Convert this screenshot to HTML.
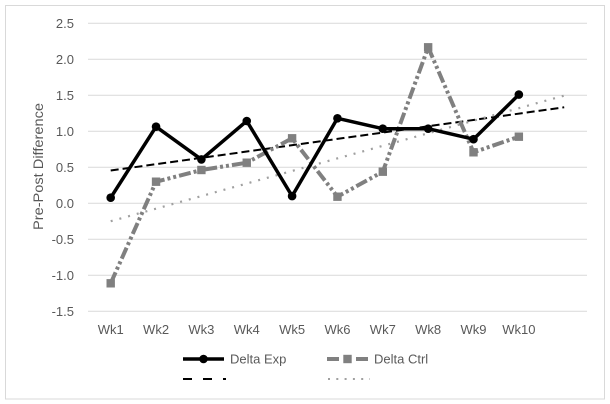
<!DOCTYPE html>
<html><head><meta charset="utf-8"><style>
html,body{margin:0;padding:0;background:#fff;}
svg{display:block;}
text{font-family:"Liberation Sans",Arial,sans-serif;fill:#595959;}
</style></head><body>
<svg width="610" height="404" viewBox="0 0 610 404" xmlns="http://www.w3.org/2000/svg">
<rect x="0" y="0" width="610" height="404" fill="#fff"/>
<rect x="5.5" y="5.5" width="599" height="393.5" fill="none" stroke="#d9d9d9" stroke-width="1"/>
<!-- gridlines -->
<g stroke="#d9d9d9" stroke-width="1">
<line x1="88" y1="23.3" x2="587" y2="23.3"/>
<line x1="88" y1="59.3" x2="587" y2="59.3"/>
<line x1="88" y1="95.3" x2="587" y2="95.3"/>
<line x1="88" y1="131.3" x2="587" y2="131.3"/>
<line x1="88" y1="167.3" x2="587" y2="167.3"/>
<line x1="88" y1="203.3" x2="587" y2="203.3"/>
<line x1="88" y1="239.3" x2="587" y2="239.3"/>
<line x1="88" y1="275.3" x2="587" y2="275.3"/>
<line x1="88" y1="311.3" x2="587" y2="311.3"/>
</g>
<!-- y tick labels -->
<g font-size="13" text-anchor="end">
<text x="74" y="28">2.5</text>
<text x="74" y="64">2.0</text>
<text x="74" y="100">1.5</text>
<text x="74" y="136">1.0</text>
<text x="74" y="172">0.5</text>
<text x="74" y="208">0.0</text>
<text x="74" y="244">-0.5</text>
<text x="74" y="280">-1.0</text>
<text x="74" y="316">-1.5</text>
</g>
<!-- y title -->
<text transform="translate(43,166.5) rotate(-90)" font-size="13.5" text-anchor="middle" textLength="127" lengthAdjust="spacingAndGlyphs">Pre-Post Difference</text>
<!-- x labels -->
<g font-size="13" text-anchor="middle">
<text x="110.7" y="334">Wk1</text>
<text x="156.05" y="334">Wk2</text>
<text x="201.4" y="334">Wk3</text>
<text x="246.75" y="334">Wk4</text>
<text x="292.1" y="334">Wk5</text>
<text x="337.45" y="334">Wk6</text>
<text x="382.8" y="334">Wk7</text>
<text x="428.15" y="334">Wk8</text>
<text x="473.5" y="334">Wk9</text>
<text x="518.85" y="334">Wk10</text>
</g>
<!-- trend lines -->
<line x1="110.7" y1="170.5" x2="564.2" y2="107.3" stroke="#000" stroke-width="2" stroke-dasharray="8 4"/>
<line x1="110.7" y1="221.2" x2="564.2" y2="95.6" stroke="#a0a0a0" stroke-width="2.2" stroke-dasharray="2 7"/>
<!-- Delta Ctrl -->
<polyline fill="none" stroke="#808080" stroke-width="4" stroke-dasharray="12 3 3 3 3 3" stroke-linejoin="round"
points="110.7,283.3 156.05,181.7 201.4,170.0 246.75,162.7 292.1,138.3 337.45,196.7 382.8,171.7 428.15,47.3 473.5,152.3 518.85,136.7"/>
<g fill="#808080">
<rect x="106.5" y="279.1" width="8.4" height="8.4"/>
<rect x="151.85" y="177.5" width="8.4" height="8.4"/>
<rect x="197.2" y="165.8" width="8.4" height="8.4"/>
<rect x="242.55" y="158.5" width="8.4" height="8.4"/>
<rect x="287.9" y="134.1" width="8.4" height="8.4"/>
<rect x="333.25" y="192.5" width="8.4" height="8.4"/>
<rect x="378.6" y="167.5" width="8.4" height="8.4"/>
<rect x="423.95" y="43.1" width="8.4" height="8.4"/>
<rect x="469.3" y="148.1" width="8.4" height="8.4"/>
<rect x="514.65" y="132.5" width="8.4" height="8.4"/>
</g>
<!-- Delta Exp -->
<polyline fill="none" stroke="#000" stroke-width="3.5" stroke-linejoin="round"
points="110.7,197.7 156.05,126.7 201.4,159.4 246.75,121.0 292.1,196.1 337.45,118.3 382.8,128.7 428.15,128.7 473.5,139.2 518.85,94.6"/>
<g fill="#000">
<circle cx="110.7" cy="197.7" r="4.3"/>
<circle cx="156.05" cy="126.7" r="4.3"/>
<circle cx="201.4" cy="159.4" r="4.3"/>
<circle cx="246.75" cy="121.0" r="4.3"/>
<circle cx="292.1" cy="196.1" r="4.3"/>
<circle cx="337.45" cy="118.3" r="4.3"/>
<circle cx="382.8" cy="128.7" r="4.3"/>
<circle cx="428.15" cy="128.7" r="4.3"/>
<circle cx="473.5" cy="139.2" r="4.3"/>
<circle cx="518.85" cy="94.6" r="4.3"/>
</g>
<!-- legend -->
<line x1="183" y1="359" x2="224" y2="359" stroke="#000" stroke-width="3.5"/>
<circle cx="203.5" cy="359" r="4.3" fill="#000"/>
<text x="230" y="363.5" font-size="13">Delta Exp</text>
<line x1="327" y1="359" x2="339" y2="359" stroke="#808080" stroke-width="4"/>
<line x1="356" y1="359" x2="368" y2="359" stroke="#808080" stroke-width="4"/>
<rect x="343.3" y="354.8" width="8.4" height="8.4" fill="#808080"/>
<text x="374" y="363.5" font-size="13">Delta Ctrl</text>
<line x1="183" y1="379" x2="226" y2="379" stroke="#000" stroke-width="2" stroke-dasharray="9 11"/>
<line x1="328" y1="379" x2="370" y2="379" stroke="#a0a0a0" stroke-width="2" stroke-dasharray="2 6.3"/>
</svg>
</body></html>
